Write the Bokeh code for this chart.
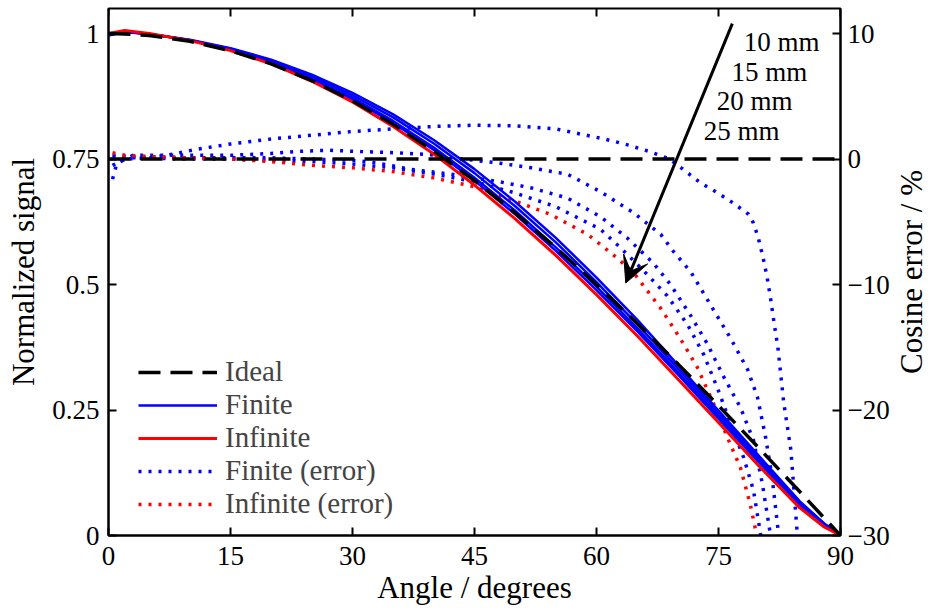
from bokeh.plotting import figure
from bokeh.layouts import row
from bokeh.models import (Range1d, LinearAxis, FixedTicker, Legend, LegendItem,
                          Arrow, VeeHead)
from bokeh.core.properties import value
from bokeh.embed import file_html
from bokeh.resources import INLINE

FONT = "Liberation Serif"
BLUE = "#0000ff"
RED = "#ff0000"

# ---- normalized signal (left axis) ----
angle = [0, 2, 5, 10, 15, 20, 25, 30, 35, 40, 45, 50, 55, 60, 65, 70, 75, 80, 85, 88, 90]
ideal = [1.000, 0.9994, 0.9962, 0.9848, 0.9659, 0.9397, 0.9063, 0.8660, 0.8192, 0.7660,
         0.7071, 0.6428, 0.5736, 0.5000, 0.4226, 0.3420, 0.2588, 0.1736, 0.0872, 0.0349, 0.0]
finite_10 = [0.996, 1.003, 0.999, 0.988, 0.971, 0.948, 0.918, 0.882, 0.839, 0.788,
             0.730, 0.665, 0.593, 0.514, 0.430, 0.340, 0.249, 0.158, 0.068, 0.024, 0.0]
finite_15 = [0.997, 1.003, 0.999, 0.987, 0.970, 0.946, 0.915, 0.877, 0.833, 0.781,
             0.722, 0.656, 0.584, 0.505, 0.421, 0.333, 0.244, 0.154, 0.065, 0.023, 0.0]
finite_20 = [0.998, 1.004, 0.999, 0.987, 0.969, 0.944, 0.911, 0.872, 0.826, 0.773,
             0.713, 0.647, 0.574, 0.496, 0.413, 0.326, 0.238, 0.149, 0.062, 0.021, 0.0]
finite_25 = [0.998, 1.004, 0.999, 0.987, 0.968, 0.943, 0.909, 0.869, 0.822, 0.768,
             0.707, 0.640, 0.567, 0.489, 0.407, 0.321, 0.233, 0.145, 0.060, 0.020, 0.0]
infinite = [1.000, 1.006, 1.000, 0.986, 0.966, 0.940, 0.905, 0.864, 0.815, 0.760,
            0.698, 0.631, 0.558, 0.480, 0.398, 0.312, 0.225, 0.138, 0.055, 0.017, 0.0]

# ---- cosine error in % (right axis) ----
ideal_err_angle = [0, 90]
ideal_err = [0, 0]

err10_angle = [0.5, 1, 2, 5, 8, 11, 15, 20, 25, 30, 35, 40, 45, 50, 55, 58, 61, 64, 66.5, 69,
               72.8, 74.9, 76.8, 78.7, 79.3, 79.9, 80.5, 81, 81.4, 81.8, 82.3, 83, 83.9, 84.7]
err10 = [-1.6, -0.4, 0.0, 0.1, 0.4, 0.8, 1.2, 1.6, 1.9, 2.2, 2.4, 2.6, 2.7, 2.65, 2.4, 2.0,
         1.6, 1.1, 0.6, 0.0, -1.9, -2.7, -3.5, -4.4, -5.1, -6.3, -7.9, -9.5, -11.1, -12.9,
         -15.0, -19.3, -23.2, -30.0]

err15_angle = [0.5, 3, 10, 15, 20, 23, 27, 31, 35.5, 39.6, 43.6, 47.8, 52, 56.4, 60.5, 64.6,
               67.9, 69.5, 71.6, 74, 76.5, 78.6, 79.8, 80.8, 81.6, 82.4]
err15 = [-0.5, 0.3, 0.3, 0.3, 0.45, 0.6, 0.7, 0.6, 0.5, 0.35, 0.0, -0.3, -0.7, -1.2, -2.6,
         -4.3, -6.0, -7.4, -9.0, -11.6, -14.3, -16.8, -19.0, -22.2, -25.4, -30.0]

err20_angle = [0.5, 3, 10, 15, 20, 25, 30, 33, 37, 42, 48, 52, 56.4, 60.5, 63.8, 67, 69.1,
               71.6, 73.6, 75.6, 77.7, 79.3, 80.4, 81.4]
err20 = [0.3, 0.2, 0.1, 0.1, 0.1, 0.0, -0.1, -0.3, -0.8, -1.2, -1.8, -2.3, -3.1, -4.6, -6.3,
         -8.3, -10.0, -12.5, -14.7, -17.3, -19.8, -22.4, -25.9, -30.0]

err25_angle = [0.5, 3, 10, 15, 20, 25, 30, 35, 40, 45, 50, 55, 60.5, 63, 65.8, 68.7, 71.2,
               73.2, 74.9, 76.5, 78.1, 79.3, 80.2]
err25 = [0.2, 0.1, 0.0, 0.0, -0.1, -0.2, -0.4, -0.7, -1.2, -1.8, -2.7, -3.8, -5.6, -7.1,
         -8.9, -10.9, -13.2, -15.6, -18.3, -21.1, -23.8, -26.4, -30.0]

err_inf_angle = [0.5, 2, 5, 10, 15, 20, 25, 30, 35, 40, 45, 49.4, 54.3, 58.9, 62, 64.5,
                 67.9, 70.3, 72.4, 74.4, 76.1, 77.7, 78.9, 79.7]
err_inf = [0.5, 0.3, 0.2, 0.1, 0.0, -0.2, -0.5, -0.7, -1.0, -1.5, -2.2, -3.2, -4.4, -6.0,
           -7.6, -9.0, -11.9, -14.3, -16.6, -19.5, -22.2, -24.6, -27.5, -30.0]

x_ticks = [0, 15, 30, 45, 60, 75, 90]
y_ticks = [0, 0.25, 0.5, 0.75, 1]
y_tick_labels = ["0", "0.25", "0.5", "0.75", "1"]
err_ticks = [-30, -20, -10, 0, 10]
err_tick_labels = ["\u221230", "\u221220", "\u221210", "0", "10"]
size_labels = ["10 mm", "15 mm", "20 mm", "25 mm"]
right_title = "Cosine error / %"

p = figure(width=892, height=608, output_backend="svg", toolbar_location=None,
           x_range=Range1d(0, 90), y_range=Range1d(0, 1.05),
           min_border_left=108, min_border_right=52, min_border_top=8,
           min_border_bottom=73, x_axis_location=None, y_axis_location=None)
p.extra_y_ranges = {"err": Range1d(-30, 12), "box": Range1d(0, 1)}
p.xgrid.visible = False
p.ygrid.visible = False
p.outline_line_color = "black"
p.outline_line_width = 2
p.background_fill_color = "white"
p.border_fill_color = "white"


def style_axis(ax):
    ax.axis_line_width = 2
    ax.axis_line_color = "black"
    ax.major_tick_in = 8
    ax.major_tick_out = 0
    ax.major_tick_line_width = 2
    ax.minor_tick_line_color = None
    ax.major_label_text_font = FONT
    ax.major_label_text_font_size = "27px"
    ax.major_label_text_color = "black"
    ax.axis_label_text_font = FONT
    ax.axis_label_text_font_size = "31px"
    ax.axis_label_text_font_style = "normal"
    ax.axis_label_text_color = "black"


xb = LinearAxis(ticker=FixedTicker(ticks=x_ticks), axis_label="Angle / degrees")
style_axis(xb)
xb.major_label_standoff = 11
xb.axis_label_standoff = 2
p.add_layout(xb, "below")

yl = LinearAxis(ticker=FixedTicker(ticks=y_ticks), axis_label="Normalized signal",
                major_label_overrides=dict(zip(y_ticks, y_tick_labels)))
style_axis(yl)
yl.major_label_standoff = 9
yl.axis_label_standoff = 8
p.add_layout(yl, "left")

yr = LinearAxis(y_range_name="err", ticker=FixedTicker(ticks=err_ticks),
                major_label_overrides=dict(zip(err_ticks, err_tick_labels)))
style_axis(yr)
yr.major_label_standoff = 7
p.add_layout(yr, "right")

# inward tick marks along the top edge of the box
p.segment(x0=x_ticks, y0=[1] * len(x_ticks), x1=x_ticks, y1=[1 - 8 / 527] * len(x_ticks),
          y_range_name="box", line_color="black", line_width=2)

# error curves (dotted, right axis)
dot = dict(line_width=3.5, line_dash="3 7")
e10 = p.line(err10_angle, err10, color=BLUE, y_range_name="err", **dot)
p.line(err15_angle, err15, color=BLUE, y_range_name="err", **dot)
p.line(err20_angle, err20, color=BLUE, y_range_name="err", **dot)
p.line(err25_angle, err25, color=BLUE, y_range_name="err", **dot)
einf = p.line(err_inf_angle, err_inf, color=RED, y_range_name="err", **dot)

# signal curves (solid, left axis)
solid = dict(line_width=2.5)
f10 = p.line(angle, finite_10, color=BLUE, **solid)
p.line(angle, finite_15, color=BLUE, **solid)
p.line(angle, finite_20, color=BLUE, **solid)
p.line(angle, finite_25, color=BLUE, **solid)
finf = p.line(angle, infinite, color=RED, line_width=3)

# ideal response and zero error
dash = dict(line_width=3.5, line_dash="22 10", color="black")
ide = p.line(angle, ideal, **dash)
p.line(ideal_err_angle, ideal_err, y_range_name="err", **dash)

# arrow through the detector-size labels
p.add_layout(Arrow(end=VeeHead(size=26, fill_color="black", line_color="black"),
                   x_start=76.7, y_start=1.020, x_end=63.6, y_end=0.503,
                   line_width=3, line_color="black"))
p.text(x=[78.1, 76.6, 74.8, 73.2], y=[0.984, 0.924, 0.865, 0.805], text=size_labels,
       text_font=value(FONT), text_font_size="27px", text_align="left",
       text_baseline="middle", text_color="black")

legend = Legend(items=[
    LegendItem(label="Ideal", renderers=[ide]),
    LegendItem(label="Finite", renderers=[f10]),
    LegendItem(label="Infinite", renderers=[finf]),
    LegendItem(label="Finite (error)", renderers=[e10]),
    LegendItem(label="Infinite (error)", renderers=[einf]),
], location=(30, 15))
legend.label_text_font = FONT
legend.label_text_font_size = "29px"
legend.glyph_width = 79
legend.glyph_height = 32
legend.label_height = 32
legend.label_standoff = 8
legend.spacing = 0
legend.padding = 0
legend.margin = 0
legend.border_line_color = None
legend.background_fill_alpha = 0
p.add_layout(legend, "center")

# narrow strip carrying the right-hand axis title, read bottom to top
q = figure(width=36, height=608, output_backend="svg", toolbar_location=None,
           x_range=Range1d(0, 36), y_range=Range1d(0, 608), min_border=0,
           x_axis_location=None, y_axis_location=None)
q.xgrid.visible = False
q.ygrid.visible = False
q.outline_line_color = None
q.border_fill_color = "white"
q.text(x=[19], y=[304], text=[right_title], angle=90, angle_units="deg",
       text_font=value(FONT), text_font_size="31px", text_align="center",
       text_baseline="middle", text_color="black")

layout = row(p, q, spacing=0)
open("out.html", "w").write(file_html(layout, INLINE))
